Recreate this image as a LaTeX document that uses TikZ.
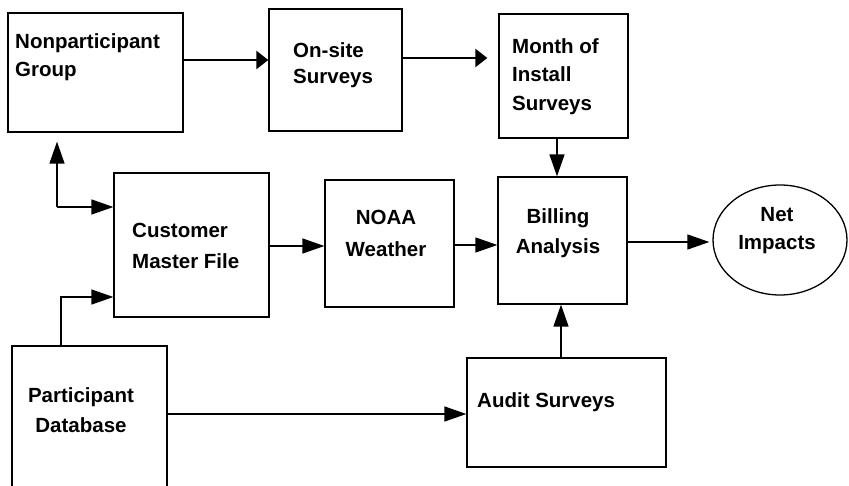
\documentclass[tikz,border=0pt]{standalone}
\usepackage{fontspec}
\setmainfont{Liberation Sans}
\usetikzlibrary{arrows.meta,shapes.geometric}
\begin{document}
\begin{tikzpicture}[x=1pt,y=-1pt,
  box/.style={draw,line width=1.3pt,rectangle,inner sep=0pt},
  oval/.style={draw,line width=1.3pt,ellipse,inner sep=0pt},
  txt/.style={font=\fontsize{20.5}{#1}\selectfont\bfseries,inner sep=0pt},
  txt/.default=29,
  arr/.style={line width=1.5pt,-{Triangle[length=22pt,width=15pt]}},
  arrtop/.style={line width=2.4pt,-{Triangle[length=12pt,width=18pt]}}
]
\useasboundingbox (0,0) rectangle (849,486);
% boxes
\node[box,minimum width=175pt,minimum height=119pt] (non) at (95.5,72.5) {};
\node[box,minimum width=133pt,minimum height=122pt] (ons) at (335.5,70) {};
\node[box,minimum width=129pt,minimum height=124pt] (mon) at (563.5,76) {};
\node[box,minimum width=155pt,minimum height=144pt] (cus) at (191.5,245) {};
\node[box,minimum width=129pt,minimum height=127pt] (noa) at (389.5,243.5) {};
\node[box,minimum width=129pt,minimum height=127pt] (bil) at (562.5,240.5) {};
\node[oval,minimum width=134pt,minimum height=110pt] (net) at (780,240) {};
\node[box,minimum width=199pt,minimum height=109pt] (aud) at (566.5,412.5) {};
\node[box,minimum width=155pt,minimum height=154pt] (par) at (89.5,423) {};
% texts
\node[txt=28,anchor=north west,align=left] (tnon) at (15,33.2) {Nonparticipant\\Group};
\node[txt=26,anchor=north west,align=left] (tons) at (293,42.2) {On-site\\Surveys};
\node[txt=28.5,anchor=north west,align=left] (tmon) at (512,38.2) {Month of\\Install\\Surveys};
\node[txt=31,anchor=north west,align=left] (tcus) at (132,223.2) {Customer\\Master File};
\node[txt=32,anchor=north,align=center] (tnoa) at (386,210.2) {NOAA\\Weather};
\node[txt=30,anchor=north,align=center] (tbil) at (558,208.2) {Billing\\Analysis};
\node[txt=28,anchor=north,align=center] (tnet) at (777,207.2) {Net\\Impacts};
\node[txt,anchor=north west,align=left] (taud) at (477,392.2) {Audit Surveys};
\node[txt=30,anchor=north,align=center] (tpar) at (81,387.2) {Participant\\Database};
% helper coordinates
\coordinate (c1) at (57,207);
\coordinate (c2) at (61,297);
\coordinate (y60) at (0,60);
\coordinate (y58) at (0,58);
\coordinate (y246) at (0,246);
\coordinate (y245) at (0,245);
\coordinate (y242) at (0,242);
\coordinate (y414) at (0,414);
\coordinate (x557) at (557,0);
\coordinate (x561) at (561,0);
% connectors
\draw[arrtop] (non.east |- y60) -- (ons.west |- y60);
\draw[arrtop] (ons.east |- y58) -- ([xshift=-11pt]mon.west |- y58);
\draw[arr] (mon.south -| x557) -- (bil.north -| x557);
\draw[arr,shorten >=9pt] (c1) -- (non.south -| c1);
\draw[arr] (c1) -- (cus.west |- c1);
\draw[arr] (par.north -| c2) -- (c2) -- (cus.west |- c2);
\draw[arr] (cus.east |- y246) -- (noa.west |- y246);
\draw[arr] (noa.east |- y245) -- (bil.west |- y245);
\draw[arr,shorten >=3pt] (bil.east |- y242) -- (net.west |- y242);
\draw[arr] (aud.north -| x561) -- (bil.south -| x561);
\draw[arr] (par.east |- y414) -- (aud.west |- y414);
\end{tikzpicture}
\end{document}
